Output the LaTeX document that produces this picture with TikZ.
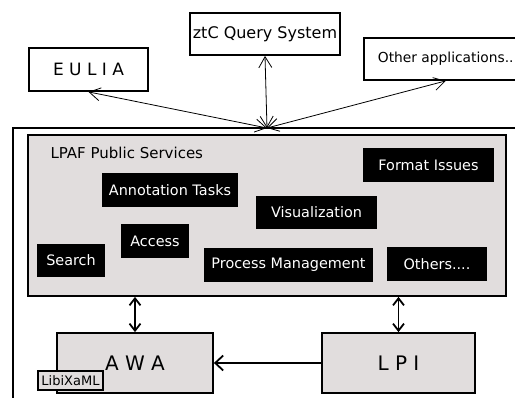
\documentclass[tikz,border=0pt]{standalone}
\usepackage{fontspec}
\setmainfont{DejaVu Sans}
\usetikzlibrary{arrows.meta}
\definecolor{panelgrey}{RGB}{225,221,221}
\tikzset{
	app/.style={draw, line width=1.8pt, fill=white, inner sep=0pt},
	layer/.style={draw, line width=1.8pt, fill=panelgrey, inner sep=0pt},
	task/.style={fill=black, text=white, inner sep=0pt, minimum height=34pt,
		font=\fontsize{14.4}{17}\selectfont},
	link/.style={line width=0.8pt,
		{Straight Barb[length=11pt,width=13pt]}-{Straight Barb[length=11pt,width=13pt]}},
	bus/.style={line width=1.8pt,
		{Straight Barb[length=7pt,width=11pt]}-{Straight Barb[length=7pt,width=11pt]}}
}
\begin{document}
\begin{tikzpicture}[x=1pt, y=-1pt]
		\useasboundingbox (0, 0) rectangle (515, 398);
		\clip (0, 0) rectangle (515, 398);
		% client applications
		\node[app, minimum width=119, minimum height=43, font=\fontsize{17}{20}\selectfont]
			(eulia) at (88.5, 69.5) {E U L I A};
		\node[app, minimum width=150, minimum height=42, font=\fontsize{16}{19}\selectfont]
			(ztc) at (265, 34) {ztC Query System};
		\node[app, anchor=west, minimum height=42, inner xsep=14pt, font=\fontsize{13.8}{17}\selectfont]
			(other) at (363, 59) {Other applications..};
		% platform
		\draw[line width=1.8pt] (13, 128) rectangle (545, 430);
		\coordinate (hub) at (267, 128);
		\node[layer, minimum width=478, minimum height=161] (services) at (267, 215.5) {};
		\node[anchor=west, font=\fontsize{15}{18}\selectfont] (title) at (47, 153) {LPAF Public Services};
		\node[task, minimum width=131] (format) at (428.5, 165) {Format Issues};
		\node[task, minimum width=136] (annot) at (170, 190.5) {Annotation Tasks};
		\node[task, minimum width=121, minimum height=33] (visu) at (316.5, 212.5) {Visualization};
		\node[task, minimum width=68] (access) at (155, 241) {Access};
		\node[task, minimum width=68, minimum height=33] (search) at (71, 260.5) {Search};
		\node[task, minimum width=169] (process) at (288.5, 265) {Process Management};
		\node[task, minimum width=100] (others) at (437, 264) {Others....};
		\node[layer, minimum width=156, minimum height=60, font=\fontsize{20}{24}\selectfont]
			(awa) at (135, 363) {A W A};
		\node[layer, minimum width=153, minimum height=60, font=\fontsize{20}{24}\selectfont]
			(lpi) at (398.5, 363) {L P I};
		\node[draw, line width=1.2pt, fill=panelgrey, minimum width=65, minimum height=19,
			inner sep=0pt, font=\fontsize{13}{15}\selectfont] (libixaml) at (70.5, 380.5) {LibiXaML};
		% connections
		\draw[link] (hub) -- (eulia.south);
		\draw[link] (hub) -- (ztc.south);
		\draw[link] (hub) -- (other.south);
		\draw[bus] (services.south -| awa.north) -- (awa.north);
		\draw[bus] (services.south -| lpi.north) -- (lpi.north);
		\draw[line width=1.8pt, -{Straight Barb[length=8pt,width=15pt]}] (lpi.west) -- (awa.east);
	\end{tikzpicture}
\end{document}
